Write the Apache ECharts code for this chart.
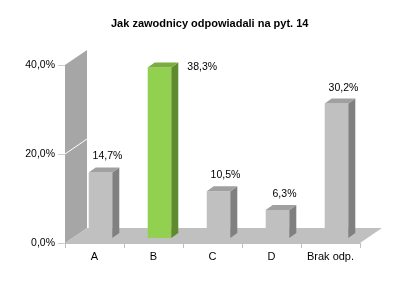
<!DOCTYPE html>
<html>
<head>
<meta charset="utf-8">
<script src="https://cdn.jsdelivr.net/npm/echarts@6/dist/echarts.min.js"></script>
<style>html,body{margin:0;padding:0;background:#fff}#c{width:410px;height:287px}</style>
</head>
<body>
<div id="c"></div>
<script>
var titleText = 'Jak zawodnicy odpowiadali na pyt. 14';
var categories = ['A', 'B', 'C', 'D', 'Brak odp.'];
var values = [14.7, 38.3, 10.5, 6.3, 30.2];
var highlightIndex = 1;
var yTicks = [0, 20, 40];

var FD = [22, -15];   // floor / wall depth offset
var BD = [7, -5];     // bar depth offset
var BO = [6, -5];     // bar placement offset within depth

function fmt(v) { return v.toFixed(1).replace('.', ',') + '%'; }

var chart = echarts.init(document.getElementById('c'), null, {renderer: 'canvas'});

function renderFrame(params, api) {
  var cs = params.coordSys;
  var x0 = cs.x, y0 = cs.y, w = cs.width, h = cs.height;
  var yb = y0 + h;
  var children = [];
  children.push({type: 'polygon', shape: {points: [[x0, yb], [x0 + FD[0], yb + FD[1]], [x0 + w + FD[0], yb + FD[1]], [x0 + w, yb]]},
    style: {fill: '#c0c0c0'}});
  children.push({type: 'polygon', shape: {points: [[x0, y0], [x0 + FD[0], y0 + FD[1]], [x0 + FD[0], yb + FD[1]], [x0, yb]]},
    style: {fill: '#a6a6a6'}});
  for (var i = 1; i < yTicks.length - 1; i++) {
    var yy = api.coord([0, yTicks[i]])[1];
    children.push({type: 'line', shape: {x1: x0, y1: yy, x2: x0 + FD[0], y2: yy + FD[1]}, style: {stroke: '#ffffff', lineWidth: 1}});
  }
  return {type: 'group', children: children};
}

function renderBar(params, api) {
  var idx = api.value(0);
  var val = api.value(1);
  var p0 = api.coord([idx, 0]);
  var p1 = api.coord([idx, val]);
  var band = api.size([1, 0])[0];
  var bw = band * 0.4;
  var cx = p0[0] + BO[0];
  var bottom = p0[1] + BO[1];
  var hgt = p0[1] - p1[1];
  var x = cx - bw / 2;
  var top = bottom - hgt;
  var hi = idx === highlightIndex;
  var cFront = hi ? '#92d050' : '#c0c0c0';
  var cSide = hi ? '#5f8b2f' : '#808080';
  var cTop = hi ? '#79ad3f' : '#a0a0a0';
  var cs = params.coordSys;
  var labelY = top - 16;
  var label;
  if (labelY < cs.y) {
    label = {type: 'text', style: {text: fmt(val), x: x + bw + BD[0] + 9, y: top, align: 'left', verticalAlign: 'middle',
      font: '10.5px "Liberation Sans", Arial, sans-serif', fill: '#000'}};
  } else {
    label = {type: 'text', style: {text: fmt(val), x: cx + BD[0], y: labelY, align: 'center', verticalAlign: 'middle',
      font: '10.5px "Liberation Sans", Arial, sans-serif', fill: '#000'}};
  }
  return {type: 'group', children: [
    {type: 'rect', shape: {x: x, y: top, width: bw, height: hgt}, style: {fill: cFront}},
    {type: 'polygon', shape: {points: [[x + bw, top], [x + bw + BD[0], top + BD[1]], [x + bw + BD[0], bottom + BD[1]], [x + bw, bottom]]}, style: {fill: cSide}},
    {type: 'polygon', shape: {points: [[x, top], [x + BD[0], top + BD[1]], [x + bw + BD[0], top + BD[1]], [x + bw, top]]}, style: {fill: cTop}},
    label
  ]};
}

var barData = values.map(function (v, i) { return [i, v]; });

chart.setOption({
  animation: false,
  backgroundColor: '#ffffff',
  title: {
    text: titleText, left: 106, top: 13,
    textStyle: {fontSize: 11, fontWeight: 'bold', color: '#000', fontFamily: '"Liberation Sans", Arial, sans-serif'}
  },
  grid: {left: 65, right: 50, top: 65, bottom: 44},
  xAxis: {
    type: 'category', data: categories,
    axisLine: {show: true, lineStyle: {color: '#bfbfbf'}},
    axisTick: {show: true, length: 5, alignWithLabel: false, interval: 0, lineStyle: {color: '#bfbfbf'}},
    axisLabel: {interval: 0, fontSize: 11, color: '#000', margin: 8, fontFamily: '"Liberation Sans", Arial, sans-serif'},
    splitLine: {show: false}
  },
  yAxis: {
    type: 'value', min: 0, max: 40, interval: 20,
    axisLine: {show: true, lineStyle: {color: '#d0d0d0'}},
    axisTick: {show: true, length: 7, lineStyle: {color: '#c8ced8'}},
    axisLabel: {fontSize: 10.5, color: '#000', margin: 10, formatter: function (v) { return fmt(v); },
      fontFamily: '"Liberation Sans", Arial, sans-serif'},
    splitLine: {show: false}
  },
  series: [
    {type: 'custom', name: 'frame', renderItem: renderFrame, data: [[0, 0]], z: 1, silent: true},
    {type: 'custom', name: 'bars', renderItem: renderBar, data: barData, z: 2, encode: {x: 0, y: 1}}
  ]
});
</script>
</body>
</html>
